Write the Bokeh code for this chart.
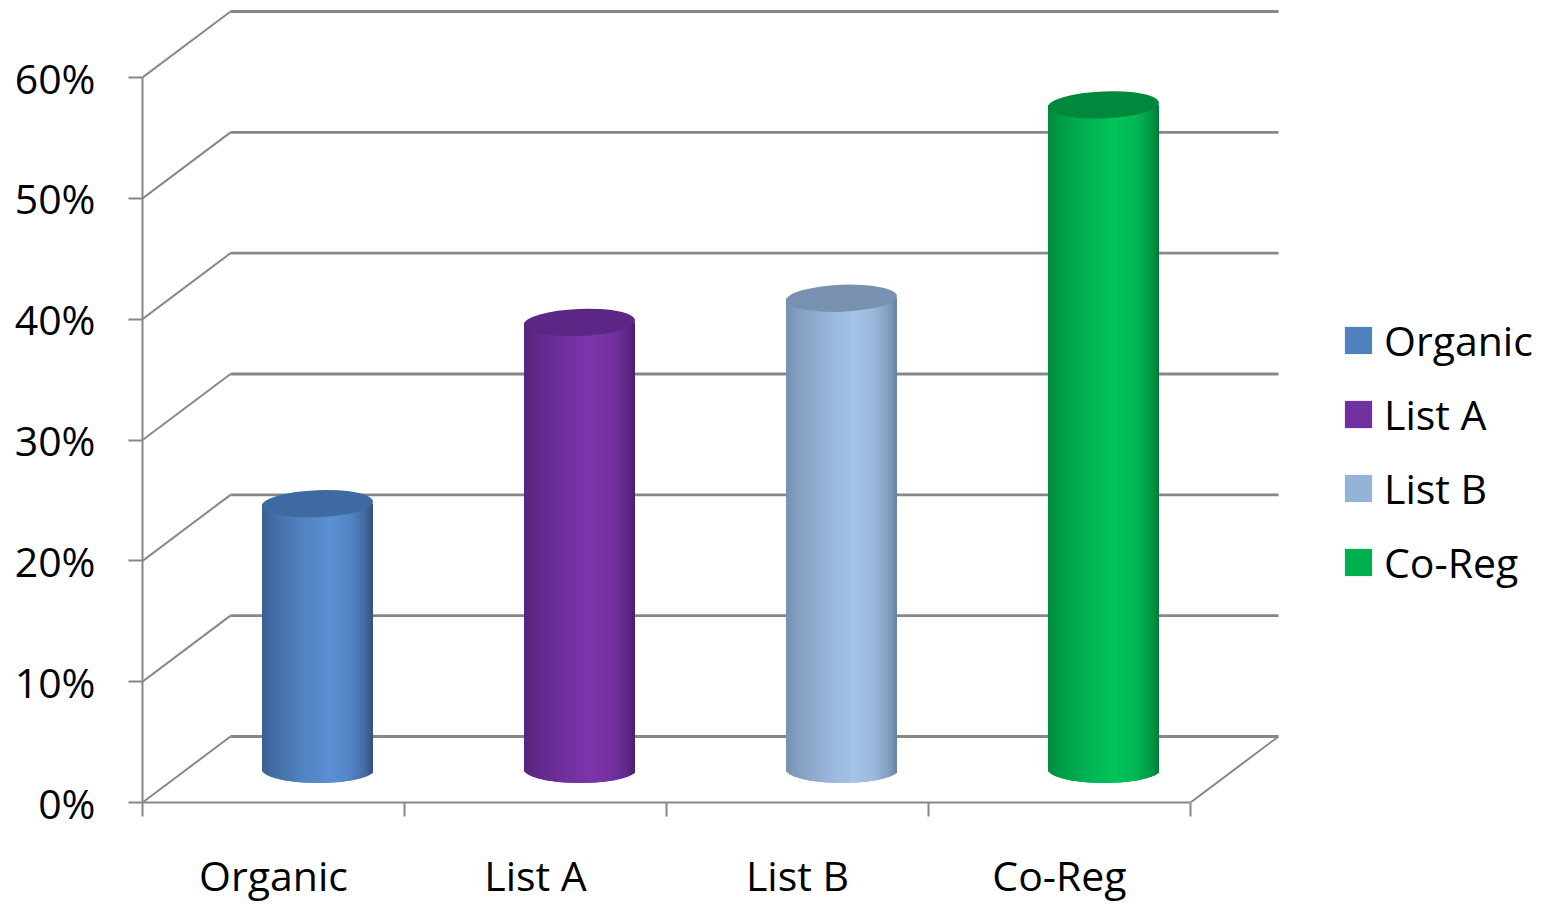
import numpy as np
from bokeh.plotting import figure
from bokeh.models import Range1d, FixedTicker, Legend, LegendItem, PrintfTickFormatter
from bokeh.embed import file_html
from bokeh.resources import INLINE

# ---- data ----
categories = ["Organic", "List A", "List B", "Co-Reg"]
values = [22, 37, 39, 55]          # percent
y_ticks = [0, 10, 20, 30, 40, 50, 60]
legend_colors = ["#4f81bd", "#7030a0", "#95b3d7", "#00b050"]
peak_colors = ["#5b90d4", "#7c35aa", "#a5c3e8", "#00c45b"]
dark_colors = ["#28466f", "#431a63", "#5b7595", "#006e31"]
top_colors = ["#3d6aa1", "#5b2686", "#7891b1", "#00893d"]

# ---- geometry (style) ----
W, H = 1545, 905
LEFT, BOTTOM = 142, 103
PX_CAT = 262.0
PX_PCT = 725.0 / 60.0
frame_w = W - LEFT
frame_h = H - BOTTOM
DX = 88.0 / PX_CAT          # depth offset in x (category units)
DV = 66.0 / PX_PCT          # depth offset in y (percent units)
HW = 55.5 / PX_CAT          # cylinder half width
EB = 13.5 / PX_PCT          # ellipse half height
GRID = "#878787"
FONT = "Open Sans"
FS = "41px"

p = figure(width=W, height=H,
           x_range=Range1d(0, frame_w / PX_CAT),
           y_range=Range1d(0, frame_h / PX_PCT),
           output_backend="svg", toolbar_location=None,
           min_border_left=LEFT, min_border_right=0,
           min_border_top=0, min_border_bottom=BOTTOM,
           outline_line_color=None, background_fill_color="white")
p.title.visible = False
p.xgrid.visible = False
p.ygrid.visible = False

n = len(categories)
# back wall gridlines
p.segment(x0=[DX] * len(y_ticks), y0=[t + DV for t in y_ticks],
          x1=[n + DX] * len(y_ticks), y1=[t + DV for t in y_ticks],
          line_color=GRID, line_width=2.8)
# side wall diagonals
p.segment(x0=[0] * len(y_ticks), y0=y_ticks,
          x1=[DX] * len(y_ticks), y1=[t + DV for t in y_ticks],
          line_color=GRID, line_width=2)
# floor right edge
p.segment(x0=[n], y0=[0], x1=[n + DX], y1=[DV], line_color=GRID, line_width=2)

# shading profile across a cylinder
prof_t = [0.0, 0.12, 0.35, 0.6, 0.8, 0.93, 1.0]
prof_v = [0.35, 0.55, 0.8, 1.0, 0.85, 0.5, 0.15]


def hex2rgb(h):
    h = h.lstrip("#")
    return np.array([int(h[i:i + 2], 16) for i in (0, 2, 4)], dtype=float)


def rgb2hex(c):
    c = np.clip(np.round(c), 0, 255).astype(int)
    return "#%02x%02x%02x" % tuple(c)


N = 80
tt = np.linspace(0, 1, N + 1)
tm = (tt[:-1] + tt[1:]) / 2
step = 2 * HW / N
for i, (cat, val) in enumerate(zip(categories, values)):
    uc = i + 0.5 + DX / 2
    vb = DV / 2
    left = uc - HW + 2 * HW * tt[:-1]
    right = np.minimum(left + 2 * step, uc + HW)
    bottom = vb - EB * np.sqrt(np.clip(1 - (2 * tm - 1) ** 2, 0, 1))
    top = np.full(N, vb + val)
    k = np.interp(tm, prof_t, prof_v)
    d, pk = hex2rgb(dark_colors[i]), hex2rgb(peak_colors[i])
    cols = [rgb2hex(d + (pk - d) * kk) for kk in k]
    p.quad(left=left, right=right, bottom=bottom, top=top,
           fill_color=cols, line_color=None)
    p.ellipse(x=[uc], y=[vb + val], width=[2 * HW], height=[2 * EB],
              angle=0.04, fill_color=top_colors[i], line_color=None)

# legend (dummy renderers)
items = []
for cat, col in zip(categories, legend_colors):
    r = p.quad(left=[np.nan], right=[np.nan], bottom=[np.nan], top=[np.nan],
               fill_color=col, line_color=None)
    items.append(LegendItem(label=cat, renderers=[r]))
legend = Legend(items=items, location=(1199, 203), orientation="vertical",
                glyph_width=34, glyph_height=34, label_standoff=9,
                label_text_font=FONT, label_text_font_size=FS,
                label_text_color="black", label_height=74, spacing=0,
                padding=0, margin=0, border_line_color=None,
                background_fill_alpha=0)
p.add_layout(legend)

# axes
xa = p.xaxis[0]
xa.ticker = FixedTicker(ticks=[i + 0.5 for i in range(n)],
                        minor_ticks=list(range(n + 1)))
xa.major_label_overrides = {i + 0.5: c for i, c in enumerate(categories)}
xa.bounds = (0, n)
xa.major_tick_out = 0
xa.major_tick_in = 0
xa.minor_tick_out = 14
xa.minor_tick_in = 0
xa.minor_tick_line_color = GRID
xa.minor_tick_line_width = 2
xa.axis_line_color = GRID
xa.axis_line_width = 2
xa.major_label_text_font = FONT
xa.major_label_text_font_size = FS
xa.major_label_text_color = "black"
xa.major_label_standoff = 30

ya = p.yaxis[0]
ya.ticker = FixedTicker(ticks=y_ticks, minor_ticks=[])
ya.formatter = PrintfTickFormatter(format="%d%%")
ya.bounds = (0, 60)
ya.major_tick_out = 14
ya.major_tick_in = 0
ya.major_tick_line_color = GRID
ya.major_tick_line_width = 2
ya.axis_line_color = GRID
ya.axis_line_width = 2
ya.major_label_text_font = FONT
ya.major_label_text_font_size = FS
ya.major_label_text_color = "black"
ya.major_label_standoff = 33

open("out.html", "w").write(file_html(p, INLINE))
